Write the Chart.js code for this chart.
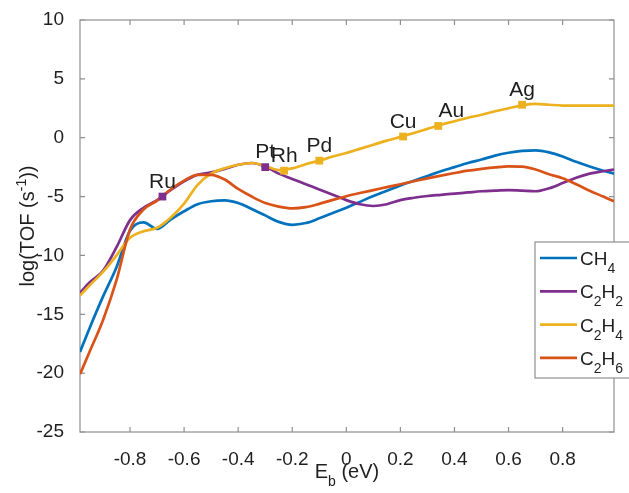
<!DOCTYPE html>
<html>
<head>
<meta charset="utf-8">
<script src="https://cdn.jsdelivr.net/npm/chart.js@4.4.0/dist/chart.umd.min.js"></script>
<style>
    html, body { margin: 0; padding: 0; background: #fff; }
</style>
</head>
<body>
<canvas id="chartTof" width="629" height="493"></canvas>
<script>
// Energia de ligação E_b (eV) - eixo x comum a todas as curvas
const eb = [-0.985, -0.95, -0.9, -0.85, -0.8, -0.75, -0.7, -0.65, -0.6, -0.55,
    -0.5, -0.45, -0.4, -0.35, -0.3, -0.25, -0.2, -0.15, -0.1, -0.05,
    0, 0.05, 0.1, 0.15, 0.2, 0.25, 0.3, 0.35, 0.4, 0.45,
    0.5, 0.55, 0.6, 0.65, 0.7, 0.75, 0.8, 0.85, 0.9, 0.95, 0.99];

// log(TOF) de cada produto
const ch4 = [-18.2, -16.2, -13.5, -11.0, -7.9, -7.2, -7.75, -6.95, -6.25, -5.65,
    -5.4, -5.33, -5.55, -6.05, -6.6, -7.15, -7.4, -7.25, -6.85, -6.4,
    -5.95, -5.45, -4.95, -4.5, -4.05, -3.65, -3.25, -2.85, -2.5, -2.15,
    -1.85, -1.52, -1.28, -1.12, -1.08, -1.25, -1.6, -2.05, -2.45, -2.8, -3.05];
const c2h2 = [-13.2, -12.3, -11.3, -9.3, -7.0, -5.95, -5.3, -4.45, -3.7, -3.15,
    -2.95, -2.65, -2.3, -2.15, -2.45, -3.05, -3.5, -3.95, -4.4, -4.85,
    -5.3, -5.65, -5.8, -5.65, -5.3, -5.1, -4.95, -4.85, -4.75, -4.65,
    -4.55, -4.5, -4.45, -4.5, -4.55, -4.3, -3.85, -3.4, -3.05, -2.85, -2.7];
const c2h4 = [-13.4, -12.55, -11.4, -10.0, -8.5, -7.95, -7.65, -6.8, -5.6, -4.0,
    -3.05, -2.6, -2.3, -2.15, -2.4, -2.75, -2.6, -2.25, -1.95, -1.6,
    -1.3, -0.95, -0.6, -0.25, 0.07, 0.4, 0.75, 1.1, 1.4, 1.7,
    1.95, 2.25, 2.5, 2.75, 2.88, 2.8, 2.73, 2.72, 2.72, 2.72, 2.72];
const c2h6 = [-20.1, -18.2, -15.5, -12.1, -7.8, -6.1, -5.35, -4.4, -3.65, -3.15,
    -3.15, -3.55, -4.35, -5.0, -5.55, -5.85, -6.0, -5.9, -5.62, -5.28,
    -4.97, -4.7, -4.45, -4.2, -3.95, -3.7, -3.45, -3.22, -3.0, -2.8,
    -2.65, -2.52, -2.43, -2.45, -2.7, -3.1, -3.45, -3.95, -4.5, -5.0, -5.4];

// Metais marcados sobre as curvas
const metais = ['Ru', 'Pt', 'Rh', 'Pd', 'Cu', 'Au', 'Ag'];
const metalEb = [-0.68, -0.30, -0.23, -0.10, 0.21, 0.34, 0.65];
const metalTof = [-5.0, -2.5, -2.8, -1.95, 0.1, 1.0, 2.8];
const metalCurva = ['C2H2', 'C2H2', 'C2H4', 'C2H4', 'C2H4', 'C2H4', 'C2H4'];

const xTicks = [-0.8, -0.6, -0.4, -0.2, 0, 0.2, 0.4, 0.6, 0.8];
const yTicks = [-25, -20, -15, -10, -5, 0, 5, 10];

const FONTE = '"Liberation Sans", Arial, Helvetica, sans-serif';
const COR_EIXO = '#8f8f8f';
const COR_TEXTO = '#1f1f1f';

const cores = {
    CH4: '#0072BD',
    C2H2: '#7E2F8E',
    C2H4: '#EDB120',
    C2H6: '#D95319'
};

const pontos = ys => ys.map((y, i) => ({ x: eb[i], y: y }));

const marcadores = nome => metais
    .map((m, i) => ({ x: metalEb[i], y: metalTof[i], nome: m, curva: metalCurva[i] }))
    .filter(p => p.curva === nome);

// Texto com índices (CH4 -> CH + 4 subscrito) ou expoentes
function desenhaRico(ctx, partes, x, y, tam, alinhar) {
    const menor = Math.round(tam * 0.72);
    const larguras = partes.map(p => {
        ctx.font = `${p.sub || p.sup ? menor : tam}px ${FONTE}`;
        return ctx.measureText(p.t).width;
    });
    const total = larguras.reduce((a, b) => a + b, 0);
    let cx = alinhar === 'center' ? x - total / 2 : x;
    partes.forEach((p, i) => {
        ctx.font = `${p.sub || p.sup ? menor : tam}px ${FONTE}`;
        const dy = p.sub ? tam * 0.42 : (p.sup ? -tam * 0.42 : 0);
        ctx.fillText(p.t, cx, y + dy);
        cx += larguras[i];
    });
}

const formula = txt => txt.match(/[A-Za-z]+|\d+/g).map(t => ({ t: t, sub: /\d/.test(t) }));

// Caixa do eixo com ticks para dentro (estilo MATLAB)
const moldura = {
    id: 'moldura',
    beforeDatasetsDraw(chart) {
        const { ctx, chartArea: a, scales: { x, y } } = chart;
        ctx.save();
        ctx.strokeStyle = COR_EIXO;
        ctx.lineWidth = 1.2;
        ctx.strokeRect(a.left, a.top, a.right - a.left, a.bottom - a.top);
        ctx.beginPath();
        xTicks.forEach(v => {
            const p = x.getPixelForValue(v);
            ctx.moveTo(p, a.bottom); ctx.lineTo(p, a.bottom - 5);
            ctx.moveTo(p, a.top); ctx.lineTo(p, a.top + 5);
        });
        yTicks.forEach(v => {
            const p = y.getPixelForValue(v);
            ctx.moveTo(a.left, p); ctx.lineTo(a.left + 5, p);
            ctx.moveTo(a.right, p); ctx.lineTo(a.right - 5, p);
        });
        ctx.stroke();
        ctx.restore();
    }
};

// Títulos dos eixos, rótulos dos metais e legenda
const anotacoes = {
    id: 'anotacoes',
    afterDraw(chart) {
        const { ctx, chartArea: a, scales: { x, y } } = chart;
        ctx.save();
        ctx.fillStyle = COR_TEXTO;
        ctx.textBaseline = 'alphabetic';

        // Eixo x: E_b (eV)
        desenhaRico(ctx, [{ t: 'E' }, { t: 'b', sub: true }, { t: ' (eV)' }],
            (a.left + a.right) / 2, a.bottom + 46, 20, 'center');

        // Eixo y: log(TOF (s^-1))
        ctx.save();
        ctx.translate(34, (a.top + a.bottom) / 2);
        ctx.rotate(-Math.PI / 2);
        desenhaRico(ctx, [{ t: 'log(TOF (s' }, { t: '-1', sup: true }, { t: '))' }], 0, 0, 20, 'center');
        ctx.restore();

        // Nomes dos metais acima dos marcadores
        const deslocX = { Au: 13 };
        ctx.font = `21px ${FONTE}`;
        ctx.textAlign = 'center';
        metais.forEach((m, i) => {
            const px = x.getPixelForValue(metalEb[i]) + (deslocX[m] || 0);
            const py = y.getPixelForValue(metalTof[i]) - 9;
            ctx.fillText(m, px, py);
        });
        ctx.textAlign = 'left';

        // Legenda
        const caixa = { left: 535, top: 242, bottom: 378 };
        ctx.fillStyle = '#fff';
        ctx.fillRect(caixa.left, caixa.top, 120, caixa.bottom - caixa.top);
        ctx.strokeStyle = COR_EIXO;
        ctx.lineWidth = 1.2;
        ctx.strokeRect(caixa.left, caixa.top, 120, caixa.bottom - caixa.top);
        chart.data.datasets.filter(d => !d.marcador).forEach((d, i) => {
            const ly = 258 + i * 33.3;
            ctx.strokeStyle = d.borderColor;
            ctx.lineWidth = 2.7;
            ctx.beginPath();
            ctx.moveTo(540, ly);
            ctx.lineTo(577, ly);
            ctx.stroke();
            ctx.fillStyle = COR_TEXTO;
            desenhaRico(ctx, formula(d.label), 580, ly + 7, 19, 'left');
        });
        ctx.restore();
    }
};

const linha = (nome, dados, ordem) => ({
    label: nome,
    data: pontos(dados),
    borderColor: cores[nome],
    borderWidth: 2.7,
    pointRadius: 0,
    cubicInterpolationMode: 'monotone',
    fill: false,
    order: ordem
});

const ptsMarcador = (nome) => ({
    label: nome + ' metais',
    marcador: true,
    data: marcadores(nome),
    showLine: false,
    pointStyle: 'rect',
    pointRadius: 5.5,
    pointBackgroundColor: cores[nome],
    pointBorderWidth: 0,
    order: 0
});

const ctxTof = document.getElementById('chartTof').getContext('2d');
const chartTof = new Chart(ctxTof, {
    type: 'line',
    data: {
        datasets: [
            linha('CH4', ch4, 4),
            linha('C2H2', c2h2, 3),
            linha('C2H4', c2h4, 2),
            linha('C2H6', c2h6, 1),
            ptsMarcador('C2H2'),
            ptsMarcador('C2H4')
        ]
    },
    options: {
        responsive: false,
        animation: false,
        layout: { padding: { left: 0, top: 20, right: 15, bottom: 0 } },
        plugins: {
            legend: { display: false },
            tooltip: { enabled: false }
        },
        scales: {
            x: {
                type: 'linear',
                min: -0.985,
                max: 0.99,
                afterFit: s => { s.height = 61; },
                afterBuildTicks: s => { s.ticks = xTicks.map(v => ({ value: v })); },
                grid: { display: false },
                border: { display: false },
                ticks: {
                    color: COR_TEXTO,
                    font: { size: 19, family: FONTE },
                    padding: 8,
                    maxRotation: 0,
                    autoSkip: false,
                    callback: v => String(v)
                }
            },
            y: {
                type: 'linear',
                min: -25,
                max: 10,
                afterFit: s => { s.width = 80; },
                afterBuildTicks: s => { s.ticks = yTicks.map(v => ({ value: v })); },
                grid: { display: false },
                border: { display: false },
                ticks: {
                    color: COR_TEXTO,
                    font: { size: 19, family: FONTE },
                    padding: 8,
                    autoSkip: false,
                    callback: v => String(v)
                }
            }
        }
    },
    plugins: [moldura, anotacoes]
});
</script>
</body>
</html>
